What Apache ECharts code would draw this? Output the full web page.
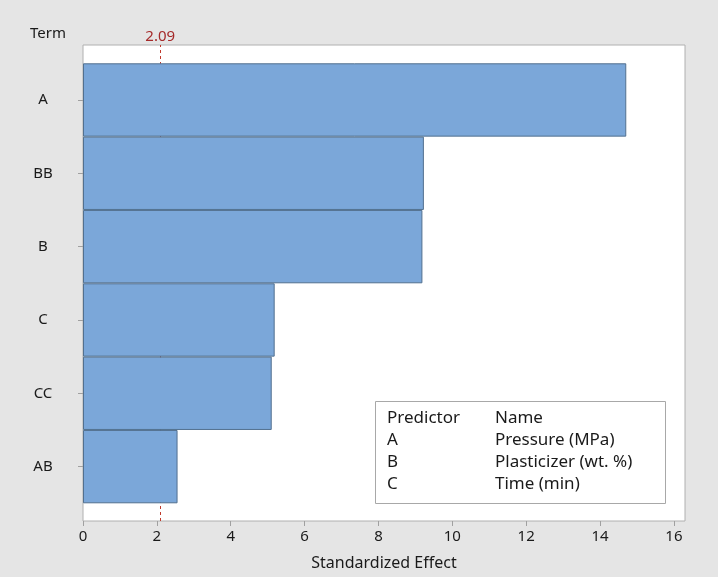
<!DOCTYPE html>
<html>
<head>
<meta charset="utf-8">
<script src="https://cdn.jsdelivr.net/npm/echarts@6/dist/echarts.min.js"></script>
<style>
  html, body { margin: 0; padding: 0; background: #e5e5e5; }
  #chart { width: 718px; height: 577px; }
</style>
</head>
<body>
<div id="chart"></div>
<script>
// Pareto chart of standardized effects
const terms = ['A', 'BB', 'B', 'C', 'CC', 'AB'];
const effects = [14.71, 9.23, 9.19, 5.19, 5.11, 2.56];
const xTicks = [0, 2, 4, 6, 8, 10, 12, 14, 16];
const refValue = 2.09;
const predictors = ['A', 'B', 'C'];
const predictorNames = ['Pressure (MPa)', 'Plasticizer (wt. %)', 'Time (min)'];

const font = 'Noto Sans';
const xMax = 16.3;

let myChart = echarts.init(document.getElementById('chart'));

let legendItems = [
    { type: 'text', left: 387, top: 410, style: { text: 'Predictor', font: '17px ' + font, fill: '#1a1a1a' } },
    { type: 'text', left: 495, top: 410, style: { text: 'Name', font: '17px ' + font, fill: '#1a1a1a' } }
];
predictors.forEach((p, i) => {
    legendItems.push({ type: 'text', left: 387, top: 432 + i * 22, style: { text: p, font: '17px ' + font, fill: '#1a1a1a' } });
    legendItems.push({ type: 'text', left: 495, top: 432 + i * 22, style: { text: predictorNames[i], font: '17px ' + font, fill: '#1a1a1a' } });
});

myChart.setOption({
    backgroundColor: '#e5e5e5',
    animation: false,
    title: {
        text: 'Term',
        left: 25,
        top: 21,
        textStyle: { fontFamily: font, fontSize: 15, fontWeight: 'normal', color: '#1a1a1a' }
    },
    grid: [
        { left: 83, top: 45, width: 602, height: 476, show: true, backgroundColor: '#fff', borderColor: '#b0b0b0', borderWidth: 1 },
        { left: 83, top: 63.3, width: 602, height: 440 }
    ],
    xAxis: [
        {
            gridIndex: 0,
            type: 'value',
            min: 0,
            max: xMax,
            interval: 2,
            name: 'Standardized Effect',
            nameLocation: 'middle',
            nameGap: 34,
            nameTextStyle: { fontFamily: font, fontSize: 16, color: '#1a1a1a' },
            splitLine: { show: false },
            axisLine: { show: false },
            axisTick: { show: true, inside: false, length: 5, lineStyle: { color: '#a0a0a0' } },
            axisLabel: {
                showMaxLabel: false,
                margin: 8,
                fontFamily: font,
                fontSize: 15,
                color: '#1a1a1a',
                formatter: v => (xTicks.indexOf(v) >= 0 ? String(v) : '')
            }
        },
        { gridIndex: 1, type: 'value', min: 0, max: xMax, show: false }
    ],
    yAxis: [
        { gridIndex: 0, type: 'value', min: 0, max: 1, show: false },
        {
            gridIndex: 1,
            type: 'category',
            inverse: true,
            data: terms,
            axisLine: { show: false },
            axisTick: { show: true, alignWithLabel: true, length: 5, lineStyle: { color: '#a0a0a0' } },
            axisLabel: { align: 'center', margin: 40, fontFamily: font, fontSize: 15, color: '#1a1a1a' }
        }
    ],
    series: [
        {
            type: 'line',
            xAxisIndex: 0,
            yAxisIndex: 0,
            data: [],
            z: 1,
            markLine: {
                silent: true,
                symbol: ['none', 'none'],
                lineStyle: { color: '#c0392b', type: [3, 3], width: 1 },
                label: {
                    position: 'end',
                    distance: 1,
                    formatter: String(refValue),
                    fontFamily: font,
                    fontSize: 15,
                    color: '#a52a2a'
                },
                data: [{ xAxis: refValue }]
            }
        },
        {
            name: 'Effect',
            type: 'bar',
            xAxisIndex: 1,
            yAxisIndex: 1,
            data: effects,
            barCategoryGap: 0,
            z: 5,
            itemStyle: { color: '#7ba7d9', borderColor: '#52708f', borderWidth: 1 }
        }
    ],
    graphic: [
        {
            type: 'group',
            children: [
                { type: 'rect', shape: { x: 375.5, y: 401.5, width: 290, height: 102 }, style: { fill: '#fff', stroke: '#a8a8a8', lineWidth: 1 } }
            ].concat(legendItems)
        }
    ]
});
</script>
</body>
</html>
